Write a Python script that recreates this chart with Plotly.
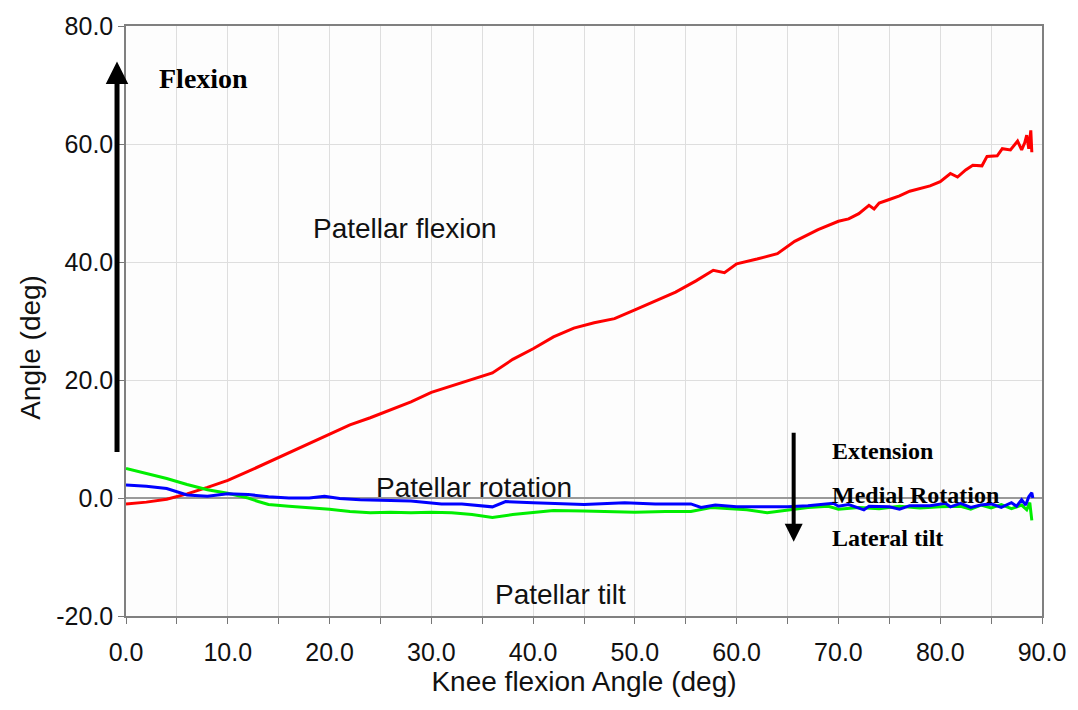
import plotly.graph_objects as go

# Patellar kinematics against knee flexion angle (deg)
flex_x = [0, 2, 4, 6, 8, 10, 12, 14, 16, 18, 20, 22, 24, 26, 28, 30, 32, 34, 36, 38,
          40, 42, 44, 46, 48, 50, 52, 54, 56, 57.7, 58.8, 60, 62, 64, 65.7, 68, 70, 71,
          72, 73, 73.5, 74, 75, 76, 77, 78, 79, 80, 81, 81.7, 82.5, 83.2, 84.1, 84.6,
          85.6, 86.1, 86.9, 87.6, 88.0, 88.3, 88.5, 88.7, 88.9, 89.0]
flex_y = [-1.0, -0.7, -0.2, 0.7, 1.8, 3.0, 4.5, 6.1, 7.7, 9.3, 10.9, 12.4, 13.6, 15.0,
          16.3, 17.9, 19.0, 20.0, 21.2, 23.5, 25.3, 27.3, 28.8, 29.7, 30.4, 31.9, 33.4,
          34.9, 36.8, 38.6, 38.2, 39.7, 40.5, 41.4, 43.5, 45.5, 46.9, 47.3, 48.2, 49.6,
          49.0, 50.0, 50.6, 51.2, 52.0, 52.4, 52.9, 53.6, 55.0, 54.4, 55.6, 56.4, 56.3,
          57.9, 58.0, 59.2, 59.0, 60.5, 59.0, 60.2, 61.5, 59.2, 62.3, 58.6]

rot_x = [0, 2, 4, 5, 6, 8, 10, 12, 14, 16, 18, 19.5, 21, 23, 26, 28, 31, 33, 36, 37.3,
         40, 42.5, 45, 49, 52, 55.5, 56.5, 57.9, 60, 62, 65, 67, 69.5, 70, 71, 72.5, 73,
         75, 76, 77, 79, 80.5, 81, 82, 83, 84, 85, 86, 87, 87.5, 88, 88.4, 88.7, 89, 89.1]
rot_y = [2.2, 2.0, 1.6, 1.1, 0.5, 0.3, 0.7, 0.6, 0.2, 0.0, 0.0, 0.3, -0.1, -0.3, -0.4,
         -0.5, -1.0, -1.0, -1.5, -0.6, -0.8, -1.0, -1.1, -0.8, -1.0, -1.0, -1.6, -1.2,
         -1.5, -1.5, -1.5, -1.3, -0.9, -1.4, -1.1, -2.0, -1.4, -1.5, -1.9, -1.3, -1.3,
         -0.9, -1.5, -0.9, -1.6, -1.2, -1.0, -1.6, -0.8, -1.4, -0.3, -1.2, 0.2, 0.9, 0.0]

tilt_x = [0, 2, 4, 6, 8, 10, 12, 13, 14, 16, 18, 20, 22, 24, 26, 28, 30, 32, 34, 36, 38,
          40, 42, 45, 48, 50, 53, 55.5, 57.5, 59, 61, 63, 65, 67, 69, 70, 72, 74, 76, 78,
          80, 82, 83, 84, 85, 86, 87, 88, 88.5, 88.8, 89]
tilt_y = [5.0, 4.2, 3.3, 2.3, 1.4, 0.8, 0.0, -0.6, -1.1, -1.4, -1.6, -1.9, -2.3, -2.5,
          -2.4, -2.5, -2.4, -2.5, -2.8, -3.3, -2.8, -2.4, -2.1, -2.2, -2.3, -2.4, -2.3,
          -2.3, -1.6, -1.8, -2.0, -2.5, -2.0, -1.6, -1.4, -1.9, -1.6, -1.8, -1.4, -1.7,
          -1.5, -1.4, -1.9, -1.2, -1.7, -1.1, -1.8, -1.2, -2.0, -0.8, -3.8]

x_ticks = [0, 10, 20, 30, 40, 50, 60, 70, 80, 90]
x_tick_text = ["0.0", "10.0", "20.0", "30.0", "40.0", "50.0", "60.0", "70.0", "80.0", "90.0"]
y_ticks = [-20, 0, 20, 40, 60, 80]
y_tick_text = ["-20.0", "0.0", "20.0", "40.0", "60.0", "80.0"]

SANS = "Liberation Sans, Arial, sans-serif"
SERIF = "Liberation Serif, Times New Roman, serif"

fig = go.Figure()
fig.add_trace(go.Scatter(x=flex_x, y=flex_y, mode="lines",
                         line=dict(color="#ff0000", width=3), name="Patellar flexion"))
fig.add_trace(go.Scatter(x=tilt_x, y=tilt_y, mode="lines",
                         line=dict(color="#00ee00", width=3), name="Patellar tilt"))
fig.add_trace(go.Scatter(x=rot_x, y=rot_y, mode="lines",
                         line=dict(color="#0000ff", width=3), name="Patellar rotation"))

labels = [
    dict(x=27.4, y=45.6, text="Patellar flexion"),
    dict(x=34.2, y=1.8, text="Patellar rotation"),
    dict(x=42.7, y=-16.3, text="Patellar tilt"),
]
for lb in labels:
    fig.add_annotation(x=lb["x"], y=lb["y"], text=lb["text"], showarrow=False,
                       font=dict(family=SANS, size=28, color="#111"))

fig.add_annotation(x=3.0, y=71.1, text="<b>Flexion</b>", showarrow=False, xanchor="left",
                   font=dict(family=SERIF, size=28, color="#000"))
for txt, yy in [("Extension", 8.0), ("Medial Rotation", 0.5), ("Lateral tilt", -6.7)]:
    fig.add_annotation(x=69.2, y=yy, text="<b>" + txt + "</b>", showarrow=False,
                       xanchor="left", font=dict(family=SERIF, size=24, color="#000"))

# direction arrows (the flexion arrow sits just left of the plot frame)
fig.add_annotation(x=-0.0098, y=74.0, xref="paper", yref="y",
                   ax=0, ay=392, axref="pixel", ayref="pixel", text="", showarrow=True,
                   arrowhead=2, arrowsize=0.9, arrowwidth=5, arrowcolor="#000")
fig.add_annotation(x=65.6, y=-7.4, ax=65.6, ay=11.3, xref="x", yref="y",
                   axref="x", ayref="y", text="", showarrow=True,
                   arrowhead=2, arrowsize=0.9, arrowwidth=4, arrowcolor="#000")

# y-axis title placed as rotated text
fig.add_annotation(x=-0.1045, y=0.455, xref="paper", yref="paper", text="Angle (deg)",
                   textangle=-90, showarrow=False, xanchor="center", yanchor="middle",
                   font=dict(family=SANS, size=28, color="#111"))

fig.update_layout(
    width=1078, height=710,
    margin=dict(l=126, r=33, t=23, b=94),
    paper_bgcolor="white", plot_bgcolor="#fdfdfd",
    showlegend=False,
    font=dict(family=SANS, color="#111"),
)
fig.update_xaxes(
    range=[0, 90], tickmode="array", tickvals=x_ticks, ticktext=x_tick_text,
    ticks="outside", ticklen=6, tickcolor="#777", ticklabelstandoff=7,
    minor=dict(dtick=5, tick0=0, showgrid=True, gridcolor="#dedede", ticks="outside",
               ticklen=6, tickcolor="#777"),
    showgrid=True, gridcolor="#dedede", gridwidth=1,
    showline=True, linecolor="#808080", linewidth=1.5, mirror=True,
    zeroline=False,
    tickfont=dict(family=SANS, size=25, color="#111"),
    title=dict(text="Knee flexion Angle (deg)", font=dict(family=SANS, size=28, color="#111"),
               standoff=7),
)
fig.update_yaxes(
    range=[-20, 80], tickmode="array", tickvals=y_ticks, ticktext=y_tick_text,
    ticks="outside", ticklen=6, tickcolor="#777",
    showgrid=True, gridcolor="#dedede", gridwidth=1,
    showline=True, linecolor="#808080", linewidth=1.5, mirror=True,
    zeroline=True, zerolinecolor="#9a9a9a", zerolinewidth=2,
    tickfont=dict(family=SANS, size=25, color="#111"),
)

fig.write_html("out.html")
